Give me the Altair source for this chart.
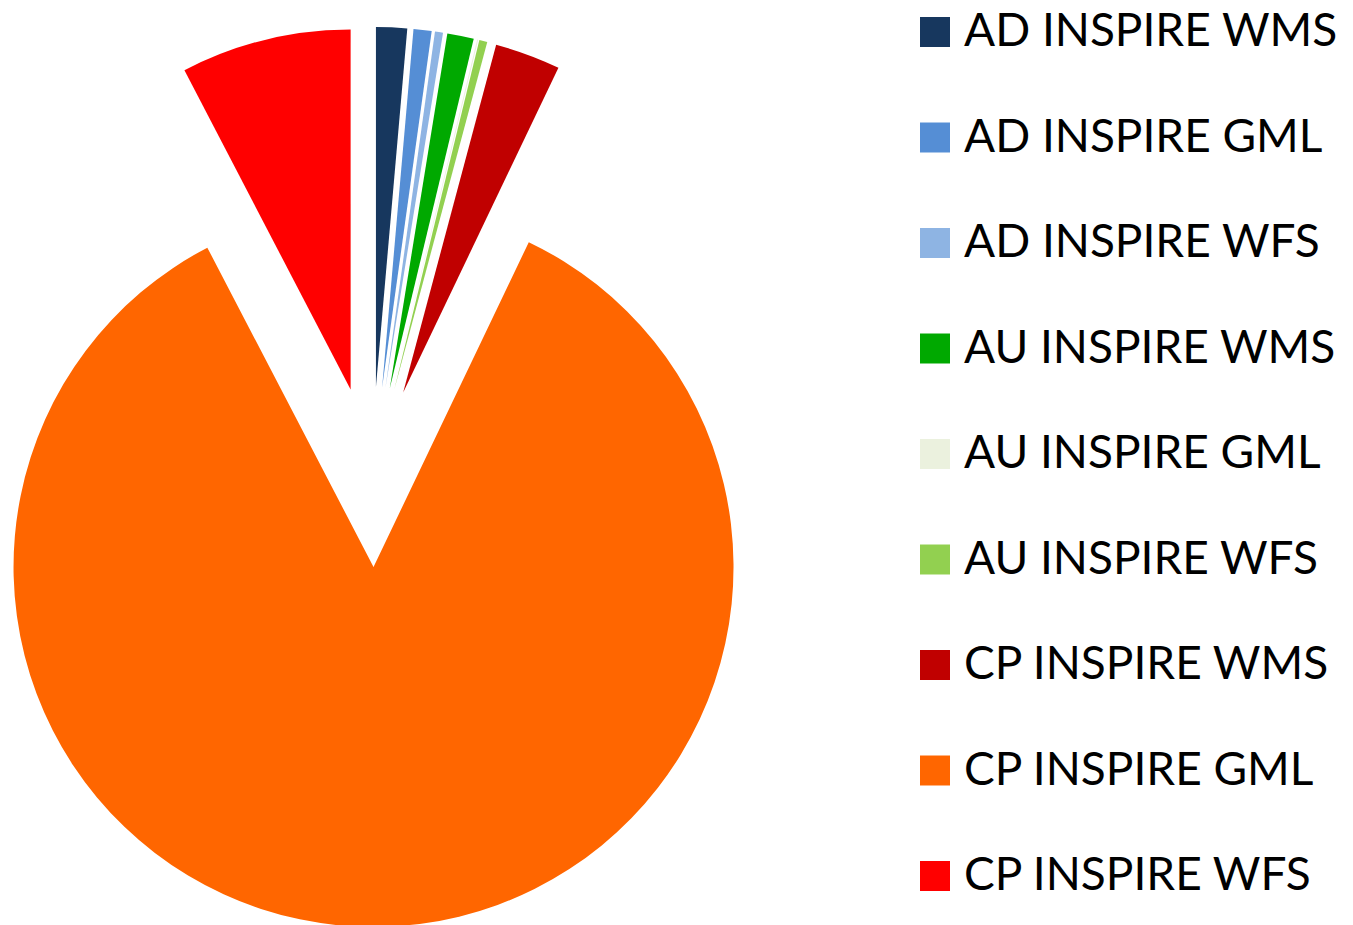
import altair as alt
import pandas as pd

categories = ["AD INSPIRE WMS", "AD INSPIRE GML", "AD INSPIRE WFS",
              "AU INSPIRE WMS", "AU INSPIRE GML", "AU INSPIRE WFS",
              "CP INSPIRE WMS", "CP INSPIRE GML", "CP INSPIRE WFS"]
shares = [1.39, 0.81, 0.36, 1.19, 0.05, 0.36, 2.94, 85.3, 7.64]
colors = ["#17375E", "#558ED5", "#8EB4E3", "#00A900", "#EBF1DE",
          "#92D050", "#C00000", "#FF6600", "#FF0000"]

df = pd.DataFrame({"cat": categories, "value": shares, "order": list(range(len(categories)))})

CX, CY, EXPLODE, R = 364, 469, 90, 360

chart = alt.Chart(df).transform_joinaggregate(
    total="sum(value)"
).transform_window(
    cum="sum(value)", sort=[alt.SortField("order")], frame=[None, 0]
).transform_calculate(
    t1="datum.cum / datum.total * 2 * PI",
    t0="(datum.cum - datum.value) / datum.total * 2 * PI",
).transform_calculate(
    mid="(datum.t0 + datum.t1) / 2"
).transform_calculate(
    cx=f"{CX} + {EXPLODE} * sin(datum.mid)",
    cy=f"{CY} - {EXPLODE} * cos(datum.mid)",
).mark_arc(outerRadius=R, innerRadius=0).encode(
    theta=alt.Theta("t0:Q", scale=None),
    theta2=alt.Theta2("t1:Q"),
    x=alt.X("cx:Q", scale=None, axis=None),
    y=alt.Y("cy:Q", scale=None, axis=None),
    color=alt.Color("cat:N", sort=categories,
                    scale=alt.Scale(domain=categories, range=colors),
                    legend=alt.Legend(orient="none", legendX=904, legendY=1,
                                      title=None, symbolType="square",
                                      symbolSize=900, symbolStrokeWidth=0,
                                      labelFontSize=46, labelFont="Lato",
                                      labelColor="black", labelOffset=6,
                                      rowPadding=59.5, padding=0, labelLimit=0)),
).properties(width=1337, height=909, padding=0).configure_view(stroke=None)

chart.save("out.html", embed_options={"renderer": "svg", "actions": False})
